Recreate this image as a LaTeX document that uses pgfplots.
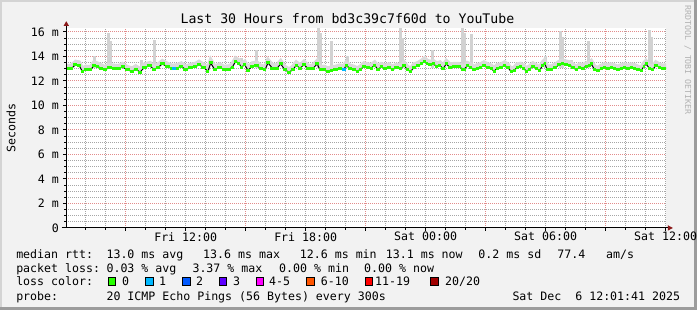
\documentclass[border=0pt]{standalone}
\usepackage{fontspec}
\setmainfont{DejaVu Sans Mono}
\usepackage{pgfplots}
\pgfplotsset{compat=1.18}
\usepackage{pgfplotstable}
\usetikzlibrary{arrows.meta}
\definecolor{bg}{HTML}{F2F2F2}
\definecolor{shA}{HTML}{D4D4D4}
\definecolor{shB}{HTML}{9C9C9C}
\definecolor{mgrid}{HTML}{E28C8C}
\definecolor{ngrid}{HTML}{A6A6A6}
\definecolor{arrowc}{HTML}{8B1A1A}
\definecolor{smoke}{HTML}{D2D2D2}
\definecolor{haze}{HTML}{DADADA}
\definecolor{lzero}{HTML}{26FF00}
\definecolor{lone}{HTML}{00B8FF}
\definecolor{ltwo}{HTML}{0059FF}
\definecolor{lthree}{HTML}{5E00FF}
\definecolor{lfour}{HTML}{FF00FF}
\definecolor{lsix}{HTML}{FF5500}
\definecolor{leleven}{HTML}{FF0000}
\definecolor{ltwenty}{HTML}{A00000}
\newcommand\lf{\fontsize{8.7pt}{10pt}\selectfont}
\newcommand\tf{\fontsize{9.9pt}{12pt}\selectfont}
\newcommand\wf{\fontsize{6.2pt}{7pt}\selectfont}

\pgfplotstableread{
t m
6.028 13.01
6.25 12.98
6.50 13.33
6.665 13.28
6.83 12.79
7.00 12.93
7.25 12.90
7.415 13.28
7.58 13.20
7.75 13.06
7.95 12.90
8.165 13.09
8.415 13.01
8.665 12.98
8.83 13.15
9.08 12.90
9.33 12.79
9.50 12.96
9.715 12.73
9.95 13.12
10.215 13.23
10.415 12.93
10.63 13.12
10.83 13.39
11.08 13.17
11.33 13.01
11.58 13.06
11.78 13.20
12.00 12.93
12.25 13.09
12.50 13.17
12.665 13.33
12.88 13.12
13.115 12.79
13.25 13.47
13.45 12.93
13.70 13.12
13.915 12.93
14.165 12.96
14.33 13.12
14.50 13.61
14.665 13.44
14.78 13.12
14.95 13.33
15.115 12.87
15.33 13.20
15.55 13.28
15.75 13.01
15.965 12.90
16.115 13.47
16.33 13.06
16.58 13.06
16.75 13.39
16.95 12.93
17.165 12.71
17.365 12.93
17.53 13.28
17.715 13.03
17.915 13.33
18.115 13.01
18.33 12.98
18.58 13.39
18.715 12.90
18.915 12.93
19.115 12.79
19.28 12.87
19.50 12.93
19.715 13.03
19.915 12.96
20.03 13.28
20.20 13.03
20.415 12.93
20.58 12.79
20.75 12.96
20.915 13.20
21.115 13.12
21.28 13.06
21.45 13.28
21.615 12.93
21.78 13.15
22.00 13.01
22.165 13.12
22.33 12.93
22.55 13.09
22.75 13.01
22.915 13.28
23.08 12.93
23.25 12.76
23.415 13.12
23.615 13.23
23.78 13.39
23.95 13.61
24.05 13.44
24.215 13.33
24.38 13.39
24.55 13.20
24.715 13.28
24.865 12.98
25.03 13.39
25.20 13.12
25.415 13.15
25.665 13.15
25.915 12.93
26.08 13.23
26.25 13.12
26.415 12.90
26.58 13.06
26.75 13.12
26.915 13.28
27.115 13.12
27.28 13.03
27.415 12.79
27.58 13.06
27.78 13.12
27.95 13.28
28.115 13.09
28.28 12.76
28.415 12.84
28.58 13.12
28.75 13.17
28.915 13.01
29.03 12.79
29.20 12.96
29.365 13.20
29.55 13.03
29.70 12.84
29.85 13.28
29.95 13.44
30.08 12.93
30.28 12.96
30.50 13.12
30.665 13.31
30.83 13.44
31.00 13.36
31.20 13.28
31.365 13.12
31.53 12.90
31.70 13.12
31.865 13.06
32.03 13.20
32.20 13.28
32.28 13.39
32.45 12.93
32.615 12.84
32.78 13.01
32.95 13.12
33.115 13.06
33.28 13.12
33.45 13.03
33.615 12.93
33.78 13.06
33.95 13.12
34.115 13.01
34.28 13.12
34.45 13.06
34.615 12.93
34.78 12.84
34.915 13.20
35.015 13.39
35.18 13.06
35.35 12.90
35.515 13.28
35.68 13.12
35.85 13.01
36.028 13.06
}\median

\pgfplotstableread{
t m
11.40 13.03
19.915 12.96
}\lossone

\pgfplotstableread{
t b e
7.44 13.1 0.90
8.13 13.1 2.85
8.22 13.1 2.20
9.80 13.1 0.60
10.43 13.1 2.25
14.80 13.1 0.80
15.55 13.1 1.45
18.62 13.1 3.20
18.72 13.1 2.80
19.30 13.1 2.20
20.10 13.1 0.90
22.75 13.1 3.20
22.84 13.1 2.40
24.36 13.1 1.40
25.83 13.1 3.20
25.95 13.1 2.80
26.27 13.1 2.70
29.97 13.1 0.90
30.73 13.1 2.95
30.82 13.1 2.50
31.30 13.1 0.65
32.15 13.1 2.20
35.20 13.1 3.10
35.30 13.1 2.50
}\spikes

\begin{document}
\begin{tikzpicture}
\begin{scope}[x=0.75pt,y=-0.75pt]
\useasboundingbox (0,0) rectangle (697,310);
\fill[bg] (0,0) rectangle (697,310);
\fill[shA] (0,0) rectangle (697,2);
\fill[shA] (0,0) rectangle (2,310);
\fill[shB] (0,307) rectangle (697,310);
\fill[shB] (694,0) rectangle (697,310);
\fill[white] (66.3,28) rectangle (666.3,228);
\end{scope}

\begin{axis}[
  at={(49.725pt,-171pt)}, anchor=south west,
  scale only axis, width=450pt, height=150pt,
  xmin=6.028, xmax=36.028, ymin=0, ymax=16.327,
  axis x line=bottom, axis y line=left,
  axis line style={-, draw=black, line width=0.75pt},
  xtick={12,18,24,30,36},
  xticklabels={Fri 12:00,Fri 18:00,Sat 00:00,Sat 06:00,Sat 12:00},
  extra x ticks={9,15,21,27,33},
  extra x tick labels={},
  extra x tick style={grid=major, major x grid style={draw=mgrid, dash pattern=on 0.75pt off 0.75pt, line width=0.75pt}},
  minor xtick={7,8,10,11,13,14,16,17,19,20,22,23,25,26,28,29,31,32,34,35},
  ytick={0,2,4,6,8,10,12,14,16},
  yticklabels={{\mbox{0}},{\mbox{2 m}},{\mbox{4 m}},{\mbox{6 m}},{\mbox{8 m}},{\mbox{10 m}},{\mbox{12 m}},{\mbox{14 m}},{\mbox{16 m}}},
  minor y tick num=3,
  grid=both,
  major x grid style={draw=ngrid, dash pattern=on 0.75pt off 0.75pt, line width=0.75pt},
  major y grid style={draw=mgrid, dash pattern=on 0.75pt off 0.75pt, line width=0.75pt},
  minor grid style={draw=ngrid, dash pattern=on 0.75pt off 0.75pt, line width=0.75pt},
  tick align=outside,
  major tick length=2.25pt, minor tick length=1.5pt,
  tick style={black, line width=0.75pt},
  ticklabel style={font=\lf, inner sep=0pt},
  xticklabel style={anchor=north, yshift=-0.8pt},
  yticklabel style={anchor=east, xshift=-3.2pt},
]
\addplot[draw=none, mark=none, forget plot,
  error bars/.cd, y dir=plus, y explicit, error mark=none,
  error bar style={line width=2.25pt, draw=smoke, solid}]
  table[x=t, y=b, y error=e] {\spikes};
\addplot[haze, line width=3pt, yshift=2.2pt, mark=none] table[x=t,y=m] {\median};
\addplot[black, line width=0.75pt, mark=none] table[x=t,y=m] {\median};
\addplot[lzero, line width=2.25pt, mark=none, jump mark mid] table[x=t,y=m] {\median};
\addplot[only marks, mark=-, mark size=1.5pt, mark options={line width=2.25pt, draw=lone}] table[x=t,y=m] {\lossone};
\end{axis}

\begin{scope}[x=0.75pt,y=-0.75pt]
% axis extensions and arrows
\draw[black, line width=0.75pt] (61.7,228) -- (668,228);
\draw[black, line width=0.75pt] (66.3,228) -- (66.3,25.7);
\fill[arrowc] (673,228) -- (668,225.3) -- (668,230.7) -- cycle;
\fill[arrowc] (66.3,21.2) -- (63.6,25.9) -- (69,25.9) -- cycle;
% title
\node[anchor=base, inner sep=0pt, font=\tf] at (347.5,23.8) {Last 30 Hours from bd3c39c7f60d to YouTube};
% y label
\node[rotate=90, inner sep=0pt, font=\lf] at (11,128) {Seconds};
% watermark
\node[rotate=-90, inner sep=0pt, font=\wf, text=black!30] at (688,60) {RRDTOOL / TOBI OETIKER};
% legend rows
\begin{scope}[every node/.style={anchor=base west, inner sep=0pt, font=\lf}]
\node at (16,258.2) {median rtt:};
\node at (106.3,258.2) {13.0 ms avg};
\node at (203,258.2) {13.6 ms max};
\node at (299.7,258.2) {12.6 ms min};
\node at (385.7,258.2) {13.1 ms now};
\node at (478.3,258.2) {0.2 ms sd};
\node at (557.3,258.2) {77.4};
\node at (606,258.2) {am/s};
\node at (16,272.5) {packet loss:};
\node at (106.3,272.5) {0.03 \% avg};
\node at (192.3,272.5) {3.37 \% max};
\node at (279,272.5) {0.00 \% min};
\node at (364,272.5) {0.00 \% now};
\node at (16,285.9) {loss color:};
\node at (122,285.9) {0};
\node at (159,285.9) {1};
\node at (196,285.9) {2};
\node at (233,285.9) {3};
\node at (269,285.9) {4-5};
\node at (320.7,285.9) {6-10};
\node at (375,285.9) {11-19};
\node at (445,285.9) {20/20};
\node at (16,300.2) {probe:};
\node at (106.3,300.2) {20 ICMP Echo Pings (56 Bytes) every 300s};
\node[anchor=base east] at (680.5,300.2) {Sat Dec\ \ 6 12:01:41 2025};
\end{scope}
\foreach \xx/\cc in {108.3/lzero,145.7/lone,182.7/ltwo,219.3/lthree,256/lfour,306.7/lsix,365/leleven,430.7/ltwenty}{
  \filldraw[fill=\cc, draw=black, line width=0.75pt] (\xx+0.2,277.5) rectangle +(7.5,8);
}
\end{scope}
\end{tikzpicture}
\end{document}
